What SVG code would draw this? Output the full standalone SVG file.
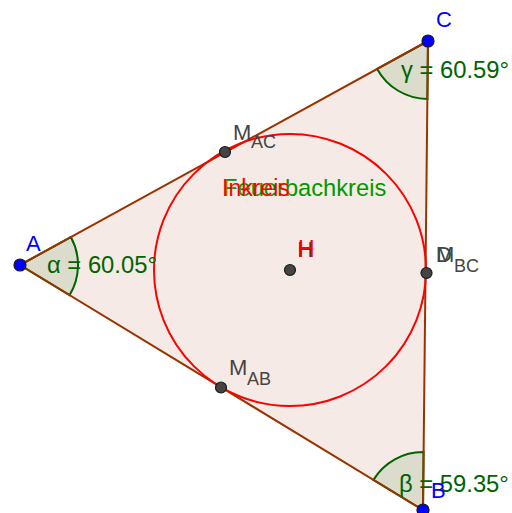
<svg xmlns="http://www.w3.org/2000/svg" width="512" height="513" viewBox="0 0 512 513">
<style>
text{font-family:"Liberation Sans",Arial,sans-serif}
.edge{stroke:#993300;stroke-width:2;fill:none;stroke-linecap:round}
.ang{fill:#006400;fill-opacity:0.1;stroke:#006400;stroke-width:2}
.angt{fill:#006400;font-size:23.8px}
.pt{fill:#444444;stroke:#1a1a1a;stroke-width:1.2}
.bpt{fill:#0000ff;stroke:#1a1a1a;stroke-width:1.2}
.lbl{fill:#444444;font-size:22px}
.sub{fill:#444444;font-size:18px}
.blbl{fill:#0000ff;font-size:22px}
</style>
<rect width="512" height="513" fill="#ffffff"/>
<g id="triangle">
<polygon points="20,265 428,41 423,510" fill="#993300" fill-opacity="0.1" stroke="none"/>
</g>
<g id="angles">
<path class="ang" d="M20,265 L70.84,237.08 A58,58 0 0 1 69.56,295.13 Z"/>
<path class="ang" d="M428,41 L427.38,99 A58,58 0 0 1 377.16,68.92 Z"/>
<path class="ang" d="M423,510 L373.44,479.87 A58,58 0 0 1 423.62,452 Z"/>
</g>
<g id="connectors">
<line class="edge" x1="20" y1="265" x2="428" y2="41"/>
<line class="edge" x1="428" y1="41" x2="423" y2="510"/>
<line class="edge" x1="423" y1="510" x2="20" y2="265"/>
</g>
<g id="feuerbachkreis">
<circle cx="290" cy="270" r="136" fill="none" stroke="#ff0000" stroke-width="2"/>
<text x="223" y="196" font-size="23.7" fill="#009900">Feuerbachkreis</text>
<text x="222" y="196" font-size="23" fill="#ff0000">Inkreis</text>
</g>
<g id="angle-labels">
<text class="angt" x="47" y="273">α = 60.05°</text>
<text class="angt" x="401" y="78">γ = 60.59°</text>
<text class="angt" x="399" y="492">β = 59.35°</text>
</g>
<g id="H">
<circle class="pt" cx="290" cy="270" r="5.5"/>
<text class="lbl" x="297.2" y="257" font-size="23px">H</text>
<text x="298" y="257" font-size="23" fill="#ff0000">H</text>
</g>
<g id="M_AC">
<circle class="pt" cx="225" cy="152" r="5.5"/>
<text class="lbl" x="233" y="140">M</text>
<text class="sub" x="251" y="148">AC</text>
</g>
<g id="M_AB">
<circle class="pt" cx="221" cy="387.5" r="5.5"/>
<text class="lbl" x="229" y="375">M</text>
<text class="sub" x="247" y="385">AB</text>
</g>
<g id="M_BC">
<circle class="pt" cx="426.5" cy="273" r="5.5"/>
<text class="lbl" x="436" y="262">D</text>
<text class="lbl" x="436" y="262">M</text>
<text class="sub" x="454" y="272">BC</text>
</g>
<g id="A">
<circle class="bpt" cx="20" cy="265" r="6"/>
<text class="blbl" x="26" y="251">A</text>
</g>
<g id="C">
<circle class="bpt" cx="428" cy="41" r="6"/>
<text class="blbl" x="436" y="27">C</text>
</g>
<g id="B">
<circle class="bpt" cx="423" cy="510" r="6"/>
<text class="blbl" x="431" y="498">B</text>
</g>
</svg>
